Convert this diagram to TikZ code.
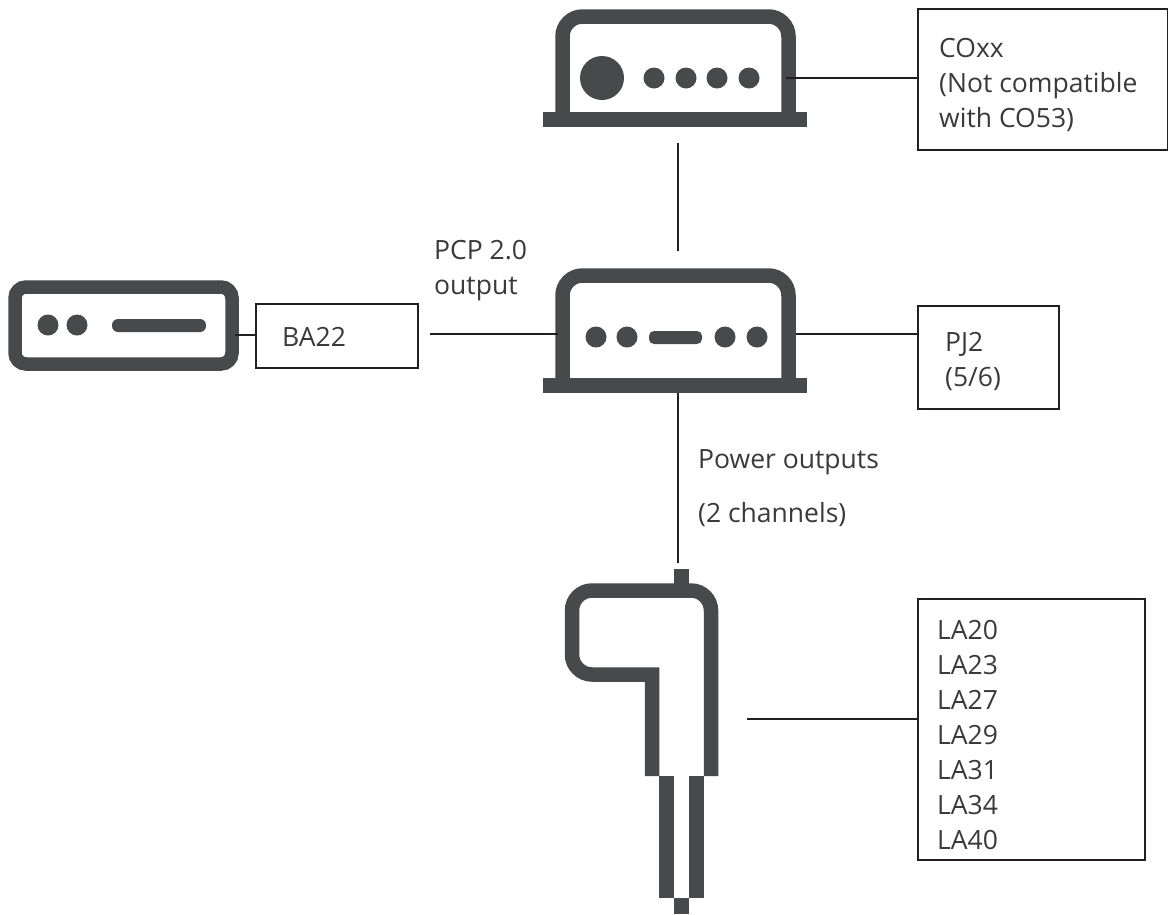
\documentclass[tikz,border=0pt]{standalone}
\usepackage{fontspec}
\setmainfont{Open Sans}
\tikzset{
  unit/.style={line width=14.5pt,color=unitgray},
  wire/.style={line width=2pt,color=wiregray},
  dot/.style={fill=unitgray},
  label/.style={font=\fontsize{26.5}{35}\selectfont,text=textgray,align=left,anchor=west,inner sep=0pt},
  listbox/.style={draw=wiregray,line width=2.2pt,anchor=north west,inner sep=0pt,minimum width=#1},
}
\definecolor{unitgray}{HTML}{48494B}
\definecolor{wiregray}{HTML}{231F20}
\definecolor{textgray}{HTML}{3A3A3C}

\begin{document}
\begin{tikzpicture}[x=1pt,y=-1pt]
  \useasboundingbox[fill=white] (0,0) rectangle (1168,914);

  % upper unit
  \draw[unit,rounded corners=20pt] (562.5,120) -- (562.5,16.5) -- (788.5,16.5) -- (788.5,120);
  \fill[unitgray] (543,112) rectangle (807,127);
  \fill[dot] (602,78) circle[radius=22];
  \foreach \x in {654,686,717,749}
    \fill[dot] (\x,78) circle[radius=10.5];

  % middle unit
  \draw[unit,rounded corners=20pt] (562.5,385) -- (562.5,275.5) -- (788.5,275.5) -- (788.5,385);
  \fill[unitgray] (543,378) rectangle (807,393);
  \foreach \x in {596,627,725,757}
    \fill[dot] (\x,337) circle[radius=10.5];
  \fill[dot,rounded corners=5pt] (649,331) rectangle (702,344);

  % amplifier on the left
  \draw[unit,line width=13.5pt,rounded corners=11pt] (15,287) rectangle (232,364);
  \foreach \x in {48,77}
    \fill[dot] (\x,325) circle[radius=10.5];
  \fill[dot,rounded corners=6pt] (112,319) rectangle (206,332);

  % plug
  \fill[unitgray] (674,569) rectangle (689,590);
  \draw[unit] (652,776) -- (652,674.5) [rounded corners=20pt] -- (572,674.5) -- (572,590.5) -- (711,590.5) [sharp corners] -- (711,776);
  \fill[unitgray] (659,776) rectangle (674,898);
  \fill[unitgray] (689,776) rectangle (704,898);
  \fill[unitgray] (674,898) rectangle (689,914);

  % boxes
  \node[listbox={250pt},minimum height=141pt] (coxx) at (917,8) {};
  \node[listbox={141pt},minimum height=103pt] (pjtwo) at (917,305) {};
  \node[listbox={162pt},minimum height=64pt] (batt) at (255,303) {};
  \node[listbox={227pt},minimum height=261pt] (lalist) at (917,598) {};

  \node[label] (coxxtext) at (939,84.5) {COxx\\(Not compatible\\with CO53)};
  \node[label] (pjtext) at (945,361) {PJ2\\(5/6)};
  \node[label] (battext) at (282,337) {BA22};
  \node[label] (latext) at (937,735.5) {LA20\\LA23\\LA27\\LA29\\LA31\\LA34\\LA40};
  \node[label] (pcptext) at (434,270.5) {PCP 2.0\\output};
  \node[label] (powertext) at (698,462.5) {Power outputs};
  \node[label] (chantext) at (698,515) {(2 channels)};

  % free ends of the connectors
  \coordinate (upperleft) at (678,143);
  \coordinate (upperright) at (678,251);
  \coordinate (midbase) at (678,393);
  \coordinate (plugtop) at (678,563);
  \coordinate (uppereast) at (786,78);
  \coordinate (mideast) at (796,334);
  \coordinate (midwest) at (558,334);
  \coordinate (pcpstart) at (430,334);
  \coordinate (ampeast) at (235,335);
  \coordinate (plugeast) at (747,719);

  \draw[wire] (upperleft) -- (upperright);
  \draw[wire] (midbase) -- (plugtop);
  \draw[wire] (uppereast) -- (uppereast -| coxx.west);
  \draw[wire] (mideast) -- (mideast -| pjtwo.west);
  \draw[wire] (pcpstart) -- (midwest);
  \draw[wire] (ampeast) -- (ampeast -| batt.west);
  \draw[wire] (plugeast) -- (plugeast -| lalist.west);

\end{tikzpicture}
\end{document}
